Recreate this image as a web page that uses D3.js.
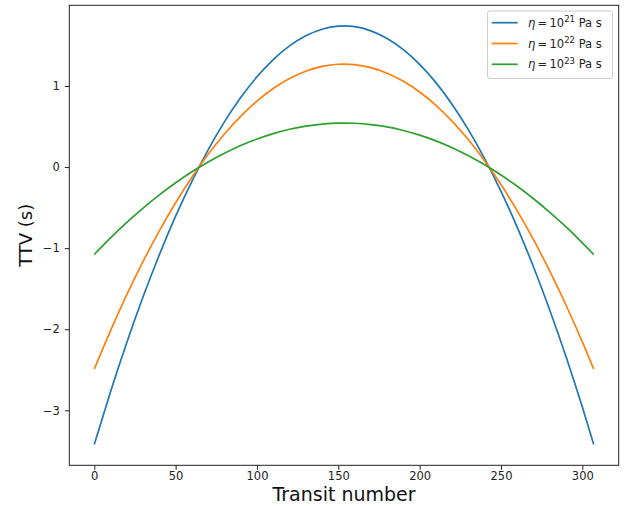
<!DOCTYPE html>
<html><head><meta charset="utf-8">
<script src="https://cdn.jsdelivr.net/npm/d3@7"></script>
<style>body{margin:0;background:#fff}svg{display:block}text{font-family:"DejaVu Sans",sans-serif}</style>
</head><body><svg id="c" width="635" height="506"></svg>
<script>
const transits = [0,10,20,30,40,50,60,70,80,90,100,110,120,130,140,150,160,170,180,190,200,210,220,230,240,250,260,270,280,290,300,307];
const ttv21 = [-3.420,-2.770,-2.163,-1.600,-1.081,-0.606,-0.175,0.213,0.557,0.857,1.113,1.326,1.494,1.619,1.700,1.737,1.731,1.680,1.586,1.448,1.266,1.041,0.772,0.458,0.101,-0.299,-0.744,-1.232,-1.765,-2.340,-2.960,-3.420];
const ttv22 = [-2.491,-2.017,-1.574,-1.164,-0.786,-0.440,-0.125,0.157,0.408,0.626,0.813,0.968,1.091,1.182,1.241,1.268,1.263,1.227,1.158,1.057,0.925,0.761,0.564,0.336,0.076,-0.216,-0.540,-0.896,-1.284,-1.704,-2.155,-2.491];
const ttv23 = [-1.078,-0.874,-0.683,-0.506,-0.343,-0.194,-0.058,0.063,0.171,0.266,0.346,0.413,0.466,0.505,0.530,0.542,0.540,0.524,0.495,0.451,0.394,0.323,0.239,0.140,0.028,-0.098,-0.237,-0.391,-0.558,-0.739,-0.934,-1.078];
const exponents = ["21","22","23"];
const xTicks = [0,50,100,150,200,250,300];
const yTicks = [-3,-2,-1,0,1];
const colors = ["#1f77b4","#ff7f0e","#2ca02c"];

const svg = d3.select("#c");
const L=69.3,R=618.7,T=5.3,B=465.3;
const all = ttv21.concat(ttv22,ttv23);
const xmin=d3.min(transits), xmax=d3.max(transits), xm=(xmax-xmin)*0.05;
const ymin=d3.min(all), ymax=d3.max(all), ym=(ymax-ymin)*0.05;
const x = d3.scaleLinear().domain([xmin-xm,xmax+xm]).range([L,R]);
const y = d3.scaleLinear().domain([ymin-ym,ymax+ym]).range([B,T]);

const fmt = d => (d<0?"\u2212":"")+Math.abs(d);
const xa = svg.append("g").attr("transform",`translate(0,${B})`)
  .call(d3.axisBottom(x).tickValues(xTicks).tickFormat(fmt).tickSize(4.5).tickPadding(2.5));
const ya = svg.append("g").attr("transform",`translate(${L},0)`)
  .call(d3.axisLeft(y).tickValues(yTicks).tickFormat(fmt).tickSize(4.5).tickPadding(5));
[xa,ya].forEach(a=>{a.select(".domain").remove();
  a.selectAll("text").attr("font-size","11.5px").attr("fill","#222").style("font-family","DejaVu Sans");
  a.selectAll("line").attr("stroke","#222").attr("stroke-width",1);});

const series=[ttv21,ttv22,ttv23];
const line = d3.line().x((d,i)=>x(transits[i])).y(d=>y(d)).curve(d3.curveNatural);
series.forEach((s,k)=>{
  svg.append("path").datum(s).attr("d",line).attr("fill","none")
    .attr("stroke",colors[k]).attr("stroke-width",1.7);
});

svg.append("rect").attr("x",L).attr("y",T).attr("width",R-L).attr("height",B-T)
  .attr("fill","none").attr("stroke","#222").attr("stroke-width",1);

svg.append("text").attr("x",(L+R)/2).attr("y",501).attr("text-anchor","middle")
  .attr("font-size","19px").attr("fill","#111").text("Transit number");
svg.append("text").attr("transform",`translate(32,${(T+B)/2}) rotate(-90)`).attr("text-anchor","middle")
  .attr("font-size","18px").attr("fill","#111").text("TTV (s)");

// legend
const lg = svg.append("g");
lg.append("rect").attr("x",487.5).attr("y",11).attr("width",125).attr("height",67.5)
  .attr("rx",2.5).attr("fill","#fff").attr("fill-opacity",0.8).attr("stroke","#ccc").attr("stroke-width",1);
exponents.forEach((e,k)=>{
  const yy = 22.7 + k*20.8;
  lg.append("line").attr("x1",491.7).attr("x2",517.7).attr("y1",yy).attr("y2",yy)
    .attr("stroke",colors[k]).attr("stroke-width",1.7);
  const t = lg.append("text").attr("x",528).attr("y",yy+4).attr("font-size","11.5px").attr("fill","#222");
  t.append("tspan").attr("font-style","italic").text("\u03b7");
  t.append("tspan").text("\u2009=\u200910");
  t.append("tspan").attr("font-size","8.5px").attr("dy",-4.5).text(e);
  t.append("tspan").attr("dy",4.5).text(" Pa s");
});
</script></body></html>
